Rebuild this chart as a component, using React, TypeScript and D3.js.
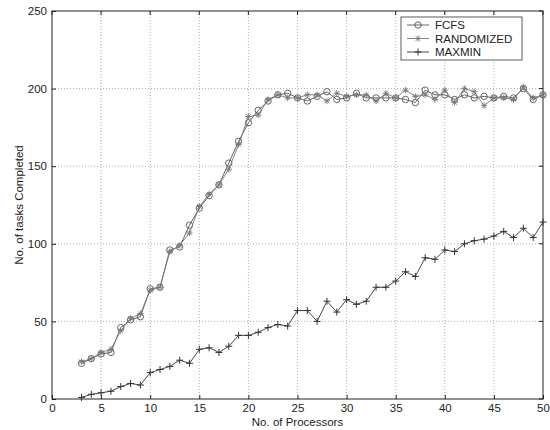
// tasks completed vs. processors (FCFS / RANDOMIZED / MAXMIN)
import React, {useRef, useEffect} from 'react';
import * as d3 from 'd3';

// data
const processors = d3.range(3, 51);
const fcfs = [23, 26, 29, 30, 46, 51, 53, 71, 72, 96, 98, 112, 123, 131, 138, 152, 166, 178, 186, 192, 196, 197, 194, 192, 195, 198, 193, 194, 197, 194, 194, 194, 194, 193, 191, 199, 196, 196, 193, 196, 194, 195, 194, 195, 194, 200, 193, 196];
const randomized = [24, 26, 30, 32, 44, 52, 55, 70, 72, 95, 99, 107, 124, 132, 138, 148, 164, 182, 183, 193, 196, 194, 194, 196, 196, 192, 197, 195, 196, 196, 192, 197, 194, 199, 195, 196, 193, 199, 191, 200, 198, 189, 194, 194, 193, 201, 194, 196];
const maxmin = [1, 3, 4, 5, 8, 10, 9, 17, 19, 21, 25, 23, 32, 33, 30, 34, 41, 41, 43, 46, 48, 47, 57, 57, 50, 63, 56, 64, 61, 63, 72, 72, 76, 82, 79, 91, 90, 96, 95, 100, 102, 103, 105, 108, 104, 110, 104, 114];
const seriesNames = ['FCFS', 'RANDOMIZED', 'MAXMIN'];
const xTicks = [0, 5, 10, 15, 20, 25, 30, 35, 40, 45, 50];
const yTicks = [0, 50, 100, 150, 200, 250];

const W = 550, H = 430;
const margin = {left: 52, right: 7, top: 11, bottom: 31};
const font = 'Liberation Sans, Arial, Helvetica, sans-serif';

export default function App(){
    const svgRef = useRef(null);

    useEffect(() => {
        const svg = d3.select(svgRef.current);
        svg.selectAll('*').remove();

        const xScale = d3.scaleLinear().domain([0, 50]).range([margin.left, W - margin.right]);
        const yScale = d3.scaleLinear().domain([0, 250]).range([H - margin.bottom, margin.top]);
        const [x0, x1] = xScale.range();
        const [y0, y1] = yScale.range();

        svg.append('rect').attr('width', W).attr('height', H).attr('fill', '#fff');

        // grid
        const grid = svg.append('g').attr('stroke', '#999').attr('stroke-width', 0.8).attr('stroke-dasharray', '1,2');
        xTicks.slice(1, -1).forEach((t) => {
            grid.append('line').attr('x1', xScale(t)).attr('x2', xScale(t)).attr('y1', y0).attr('y2', y1);
        });
        yTicks.slice(1, -1).forEach((t) => {
            grid.append('line').attr('x1', x0).attr('x2', x1).attr('y1', yScale(t)).attr('y2', yScale(t));
        });

        // axes (ticks inside, matlab style)
        const xAxis = svg.append('g')
            .attr('transform', `translate(0,${y0})`)
            .call(d3.axisBottom(xScale).tickValues(xTicks).tickSizeInner(-4).tickSizeOuter(0).tickPadding(5));
        const yAxis = svg.append('g')
            .attr('transform', `translate(${x0},0)`)
            .call(d3.axisLeft(yScale).tickValues(yTicks).tickSizeInner(-4).tickSizeOuter(0).tickPadding(5));
        [xAxis, yAxis].forEach((ax) => {
            ax.select('.domain').remove();
            ax.selectAll('text').attr('font-family', font).attr('font-size', 11.5).attr('fill', '#222');
            ax.selectAll('line').attr('stroke', '#222');
        });
        // top/right ticks
        const topTicks = svg.append('g').attr('stroke', '#222');
        xTicks.forEach((t) => {
            topTicks.append('line').attr('x1', xScale(t)).attr('x2', xScale(t)).attr('y1', y1).attr('y2', y1 + 4);
        });
        yTicks.forEach((t) => {
            topTicks.append('line').attr('x1', x1).attr('x2', x1 - 4).attr('y1', yScale(t)).attr('y2', yScale(t));
        });
        svg.append('rect').attr('x', x0).attr('y', y1).attr('width', x1 - x0).attr('height', y0 - y1)
            .attr('fill', 'none').attr('stroke', '#222').attr('stroke-width', 1);

        // labels
        svg.append('text').attr('x', (x0 + x1) / 2).attr('y', H - 4).attr('text-anchor', 'middle')
            .attr('font-family', font).attr('font-size', 11.5).attr('fill', '#222').text('No. of Processors');
        svg.append('text').attr('transform', `translate(23,${(y0 + y1) / 2}) rotate(-90)`).attr('text-anchor', 'middle')
            .attr('font-family', font).attr('font-size', 11.5).attr('fill', '#222').text('No. of tasks Completed');

        // markers
        const drawMarker = (g, kind, cx, cy, color) => {
            if (kind === 'circle') {
                g.append('circle').attr('cx', cx).attr('cy', cy).attr('r', 3.2)
                    .attr('fill', 'none').attr('stroke', color).attr('stroke-width', 0.9);
            } else if (kind === 'star') {
                const s = 3.2;
                const p = d3.path();
                p.moveTo(cx - s, cy); p.lineTo(cx + s, cy);
                p.moveTo(cx, cy - s); p.lineTo(cx, cy + s);
                p.moveTo(cx - s * 0.7, cy - s * 0.7); p.lineTo(cx + s * 0.7, cy + s * 0.7);
                p.moveTo(cx - s * 0.7, cy + s * 0.7); p.lineTo(cx + s * 0.7, cy - s * 0.7);
                g.append('path').attr('d', p.toString()).attr('stroke', color).attr('stroke-width', 0.9);
            } else {
                const s = 3.5;
                const p = d3.path();
                p.moveTo(cx - s, cy); p.lineTo(cx + s, cy);
                p.moveTo(cx, cy - s); p.lineTo(cx, cy + s);
                g.append('path').attr('d', p.toString()).attr('stroke', color).attr('stroke-width', 1);
            }
        };

        const series = [
            {name: seriesNames[0], values: fcfs, kind: 'circle', color: '#555'},
            {name: seriesNames[1], values: randomized, kind: 'star', color: '#777'},
            {name: seriesNames[2], values: maxmin, kind: 'plus', color: '#333'},
        ];
        const line = d3.line().x((d) => xScale(d[0])).y((d) => yScale(d[1]));
        series.forEach((s) => {
            const pts = processors.map((p, i) => [p, s.values[i]]);
            const g = svg.append('g');
            g.append('path').attr('d', line(pts)).attr('fill', 'none').attr('stroke', s.color).attr('stroke-width', 0.9);
            pts.forEach((d) => drawMarker(g, s.kind, xScale(d[0]), yScale(d[1]), s.color));
        });

        // legend
        const lg = svg.append('g');
        lg.append('rect').attr('x', 401).attr('y', 17).attr('width', 121).attr('height', 43)
            .attr('fill', '#fff').attr('stroke', '#333').attr('stroke-width', 0.8);
        series.forEach((s, i) => {
            const ly = 25 + i * 13.5;
            lg.append('line').attr('x1', 407).attr('x2', 429).attr('y1', ly).attr('y2', ly)
                .attr('stroke', s.color).attr('stroke-width', 0.9);
            drawMarker(lg, s.kind, 418, ly, s.color);
            lg.append('text').attr('x', 435).attr('y', ly + 4).attr('font-family', font).attr('font-size', 11.5)
                .attr('fill', '#222').text(s.name);
        });
    }, []);

    return(
        <svg ref={svgRef} width={W} height={H} style={{position: 'absolute', left: 0, top: 0, display: 'block'}} />
    )
}
